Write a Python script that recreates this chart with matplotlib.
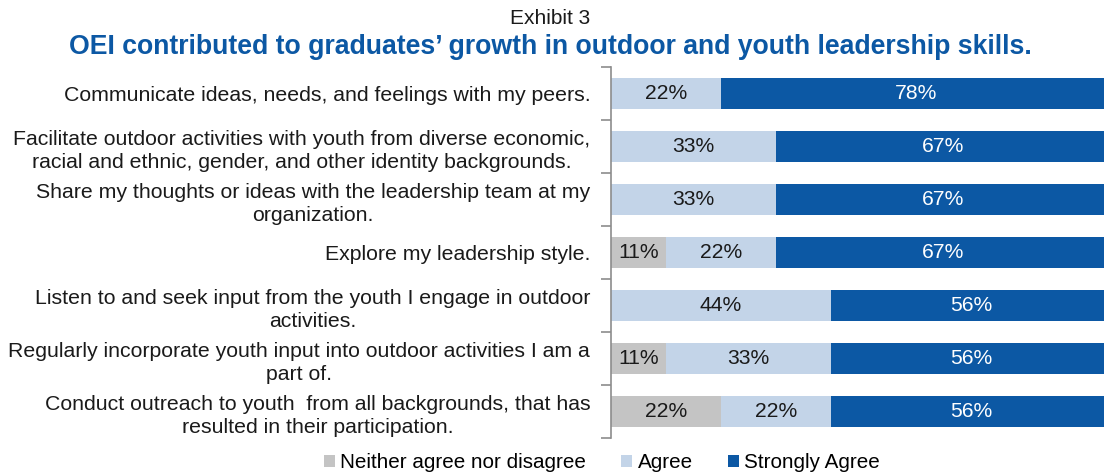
import matplotlib
matplotlib.use("Agg")
import matplotlib.pyplot as plt
from matplotlib.patches import Patch

plt.rcParams['font.family'] = ['Liberation Sans', 'DejaVu Sans']

categories = [
    "Communicate ideas, needs, and feelings with my peers.",
    "Facilitate outdoor activities with youth from diverse economic,\nracial and ethnic, gender, and other identity backgrounds.",
    "Share my thoughts or ideas with the leadership team at my\norganization.",
    "Explore my leadership style.",
    "Listen to and seek input from the youth I engage in outdoor\nactivities.",
    "Regularly incorporate youth input into outdoor activities I am a\npart of.",
    "Conduct outreach to youth  from all backgrounds, that has\nresulted in their participation.",
]
neither = [0, 0, 0, 11, 0, 11, 22]
agree = [22, 33, 33, 22, 44, 33, 22]
strongly = [78, 67, 67, 67, 56, 56, 56]

series_names = ["Neither agree nor disagree", "Agree", "Strongly Agree"]
colors = ["#C4C4C4", "#C3D4E8", "#0C58A4"]
text_colors = ["#1a1a1a", "#1a1a1a", "white"]

fig = plt.figure(figsize=(11.04, 4.76), dpi=100)
ax = fig.add_axes([611/1104, 38/476, 500/1104, 371/476])

y = list(range(len(categories)))
left = [0]*len(categories)
for vals, c, tc in zip([neither, agree, strongly], colors, text_colors):
    ax.barh(y, vals, left=left, height=0.585, color=c, edgecolor='none')
    for yi, v, l in zip(y, vals, left):
        if v > 0:
            ax.text(l + v/2, yi, f"{v}%", ha='center', va='center',
                    fontsize=15.2, color=tc)
    left = [a + b for a, b in zip(left, vals)]

ax.set_xlim(0, 100)
ax.set_ylim(6.5, -0.5)
ax.set_xticks([])
ax.set_yticks(y)
ax.set_yticklabels(categories, fontsize=15.3, color='#1a1a1a')
for t in ax.get_yticklabels():
    t.set_multialignment('center')
    t.set_linespacing(1.3)
ax.tick_params(axis='y', which='major', length=0, pad=15)
ax.set_yticks([i - 0.5 for i in range(len(categories) + 1)], minor=True)
ax.tick_params(axis='y', which='minor', length=7, width=1.2, color='#8c8c8c', direction='out')
for s in ['top', 'right', 'bottom']:
    ax.spines[s].set_visible(False)
ax.spines['left'].set_color('#8c8c8c')
ax.spines['left'].set_linewidth(1.2)

fig.text(550/1104, 1 - 18/476, "Exhibit 3", ha='center', va='center', fontsize=15, color='#1a1a1a')
fig.text(550/1104, 1 - 47/476, "OEI contributed to graduates\u2019 growth in outdoor and youth leadership skills.",
         ha='center', va='center', fontsize=19.2, fontweight='bold', color='#0C58A4')

handles = [Patch(facecolor=c, edgecolor='none') for c in colors]
fig.legend(handles, series_names, loc='center', bbox_to_anchor=(602/1104, 1 - 463/476),
           ncol=3, frameon=False, fontsize=14.9, handlelength=0.53, handleheight=0.53,
           handletextpad=0.25, columnspacing=1.7, borderpad=0)

fig.savefig("out.png", dpi=100)
